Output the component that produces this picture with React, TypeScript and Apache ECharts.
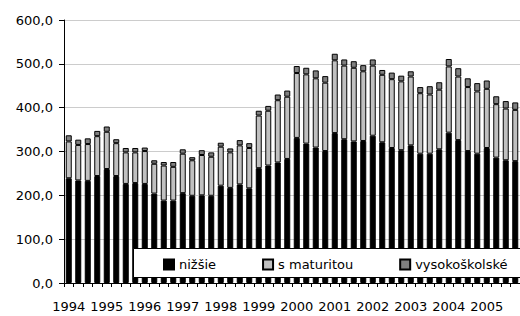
import React, { useEffect, useRef } from "react";
import * as echarts from "echarts";

const years = ["1994", "1995", "1996", "1997", "1998", "1999", "2000", "2001", "2002", "2003", "2004", "2005"];
const quarters = ["Q1", "Q2", "Q3", "Q4"];
const yTicks = [0, 100, 200, 300, 400, 500, 600];

const nizsie = [
  239, 234, 233, 244, 260, 244, 226, 228, 226, 204, 188, 188,
  205, 199, 200, 199, 222, 217, 225, 216, 262, 268, 275, 283,
  331, 318, 309, 301, 342, 328, 323, 324, 336, 321, 308, 303,
  314, 295, 295, 305, 343, 326, 301, 295, 308, 286, 280, 278,
];
const sMaturitou = [
  84, 81, 84, 91, 85, 75, 72, 70, 75, 68, 80, 77,
  90, 81, 92, 89, 89, 81, 89, 92, 120, 125, 142, 142,
  148, 158, 158, 156, 166, 168, 168, 159, 160, 154, 157, 157,
  157, 138, 135, 136, 151, 145, 146, 142, 135, 122, 118, 117,
];
const vysokoskolske = [
  14, 12, 13, 12, 12, 9, 10, 10, 8, 8, 8, 11,
  10, 7, 11, 10, 9, 9, 12, 11, 11, 11, 13, 14,
  16, 15, 18, 15, 15, 14, 15, 14, 14, 11, 15, 13,
  12, 14, 19, 17, 17, 19, 20, 19, 19, 18, 17, 17,
];

const categories: string[] = [];
years.forEach((y) => quarters.forEach((q) => categories.push(y + " " + q)));

const FONT = "DejaVu Sans";

export default function App() {
  const ref = useRef<HTMLDivElement>(null);
  useEffect(() => {
    document.body.style.margin = "0";
    const chart = echarts.init(ref.current!, null, { renderer: "svg" });
    const barBase = {
      type: "bar" as const,
      stack: "total",
      barWidth: 6,
      emphasis: { disabled: true },
    };
    chart.setOption({
      animation: false,
      textStyle: { fontFamily: FONT },
      grid: { left: 64, top: 20, width: 465, height: 263, containLabel: false },
      xAxis: {
        type: "category",
        data: categories,
        boundaryGap: true,
        axisLine: { lineStyle: { color: "#000", width: 1 } },
        axisTick: { show: true, interval: 0, length: 4, lineStyle: { color: "#000" } },
        axisLabel: {
          interval: (i: number) => i % 4 === 0,
          formatter: (v: string) => v.split(" ")[0],
          color: "#000",
          fontSize: 13,
          fontFamily: FONT,
          margin: 17,
        },
        splitLine: { show: false },
      },
      yAxis: {
        type: "value",
        min: yTicks[0],
        max: yTicks[yTicks.length - 1],
        interval: 100,
        axisLine: { show: true, lineStyle: { color: "#000", width: 1 } },
        axisTick: { show: true, length: 5, lineStyle: { color: "#000" } },
        axisLabel: {
          formatter: (v: number) => v.toFixed(1).replace(".", ","),
          color: "#000",
          fontSize: 13,
          fontFamily: FONT,
          margin: 11,
        },
        splitLine: { show: true, lineStyle: { color: "#cccccc", width: 1 } },
      },
      legend: {
        left: 158,
        top: 253,
        itemWidth: 10,
        itemHeight: 10,
        itemGap: 46,
        icon: "rect",
        textStyle: { fontSize: 13, fontFamily: FONT, color: "#000" },
        data: ["nižšie", "s maturitou", "vysokoškolské"],
        z: 10,
      },
      graphic: [
        {
          type: "rect",
          z: 5,
          zlevel: 0,
          shape: { x: 133.5, y: 248.5, width: 420, height: 29 },
          style: { fill: "#fff", stroke: "#000", lineWidth: 1 },
          silent: true,
        },
      ],
      series: [
        { ...barBase, name: "nižšie", data: nizsie, itemStyle: { color: "#000", borderColor: "#000", borderWidth: 1 } },
        { ...barBase, name: "s maturitou", data: sMaturitou, itemStyle: { color: "#c0c0c0", borderColor: "#000", borderWidth: 1 } },
        { ...barBase, name: "vysokoškolské", data: vysokoskolske, itemStyle: { color: "#808080", borderColor: "#000", borderWidth: 1 } },
      ],
    });
    return () => chart.dispose();
  }, []);
  return <div ref={ref} style={{ width: 520, height: 316 }} />;
}
